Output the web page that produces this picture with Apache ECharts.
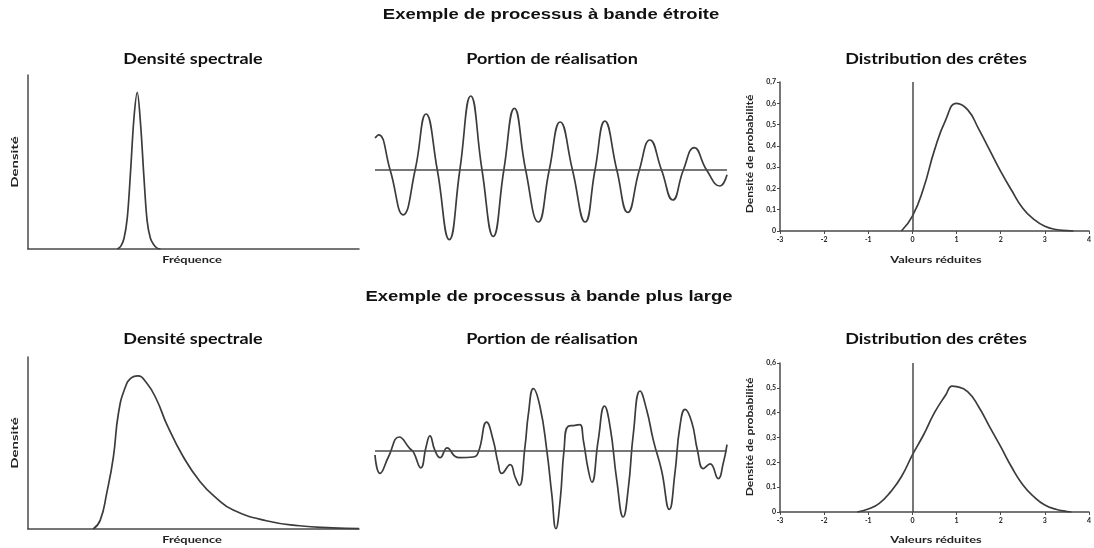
<!DOCTYPE html>
<html>
<head>
<meta charset="utf-8">
<script src="https://cdn.jsdelivr.net/npm/echarts@6/dist/echarts.min.js"></script>
<style>
  html, body { margin: 0; padding: 0; background: #fff; }
  #chart { width: 1094px; height: 548px; }
</style>
</head>
<body>
<div id="chart"></div>
<script>
// Processus à bande étroite : densité spectrale (fréquence normalisée 0–100, densité 0–100)
const spectreEtroit = [
  [27, 0], [28, 1.5], [29, 6], [30, 18], [31, 45], [32, 75], [33, 90],
  [34, 72], [35, 42], [36, 16], [37, 6], [38, 2.5], [39, 0.5], [40, 0]
];

// Processus à bande plus large : densité spectrale
const spectreLarge = [
  [19.7, 0], [21.8, 5], [23.8, 21], [25.8, 42], [27.3, 67], [29.3, 82], [31.3, 88],
  [33.1, 89], [35.8, 85], [38.9, 75], [41.9, 61], [46.9, 42], [52, 27.5], [57, 17.8],
  [62, 11], [72, 4.8], [82, 1.9], [92, 0.7], [100, 0.2]
];

// Portions de réalisation (temps normalisé 0–100, amplitude)
const realisationEtroite = [
  [0, 0.40], [1, 0.44], [4.3, 0], [8.0, -0.56], [11.4, 0], [14.5, 0.70], [17.7, 0],
  [21.1, -0.87], [24.1, 0], [27.2, 0.925], [30.4, 0], [33.6, -0.83], [36.6, 0],
  [39.6, 0.77], [42.8, 0], [46.4, -0.65], [49.5, 0], [52.6, 0.60], [56.1, 0],
  [59.7, -0.65], [62.5, 0], [65.3, 0.61], [68.7, 0], [71.8, -0.53], [75.1, 0],
  [78.1, 0.375], [81.4, 0], [84.6, -0.375], [87.6, 0], [90.7, 0.28], [94.2, 0],
  [98.0, -0.2], [100, -0.06]
];

const realisationLarge = [
  [0, -0.05], [1.4, -0.28], [3.8, -0.075], [6.9, 0.175], [9.9, 0.03], [10.9, -0.01],
  [13.0, -0.21], [14.5, 0.05], [15.6, 0.19], [17.0, 0.01], [18.5, -0.083], [20.5, 0.04],
  [22.7, -0.066], [24.1, -0.083], [27.9, -0.075], [29.4, -0.01], [31.7, 0.36],
  [33.6, 0.13], [35.0, -0.16], [36.0, -0.28], [38.4, -0.17], [39.8, -0.325],
  [41.0, -0.43], [42.6, 0.05], [43.6, 0.47], [45.0, 0.78], [46.9, 0.55], [48.8, 0.01],
  [50.2, -0.53], [51.4, -0.97], [52.6, -0.62], [53.7, 0.01], [54.9, 0.31], [56.8, 0.32],
  [58.2, 0.33], [59.2, 0.13], [60.6, -0.24], [61.6, -0.39], [63.4, 0.13], [65.2, 0.56],
  [66.8, 0.30], [68.7, -0.37], [70.5, -0.825], [72.0, -0.45], [73.4, 0.22], [75.3, 0.75],
  [77.2, 0.51], [79.1, 0.13], [81.4, -0.24], [83.6, -0.73], [85.2, -0.28], [86.6, 0.30],
  [88.1, 0.52], [90.0, 0.36], [91.6, 0.01], [93.3, -0.22], [95.2, -0.16], [97.5, -0.345],
  [98.9, -0.16], [100, 0.08]
];

// Distribution des crêtes (valeurs réduites, densité de probabilité)
const cretesEtroit = [
  [-0.25, 0], [0, 0.07], [0.25, 0.2], [0.5, 0.38], [0.75, 0.52], [1.0, 0.6],
  [1.25, 0.57], [1.5, 0.48], [1.75, 0.38], [2.0, 0.28], [2.25, 0.19], [2.5, 0.107],
  [2.75, 0.055], [3.0, 0.022], [3.25, 0.007], [3.5, 0.002], [3.65, 0]
];

const cretesLarge = [
  [-1.25, 0], [-1.0, 0.012], [-0.75, 0.035], [-0.5, 0.08], [-0.25, 0.142], [0, 0.23],
  [0.25, 0.31], [0.5, 0.40], [0.75, 0.47], [0.9, 0.507], [1.0, 0.505], [1.25, 0.485],
  [1.5, 0.424], [1.75, 0.343], [2.0, 0.263], [2.25, 0.18], [2.5, 0.11], [2.75, 0.062],
  [3.0, 0.028], [3.25, 0.011], [3.5, 0.002], [3.6, 0]
];

// Graduations des axes de la distribution des crêtes
const ticksValeurs = [-3, -2, -1, 0, 1, 2, 3, 4];
const ticksDensiteEtroit = [0, 0.1, 0.2, 0.3, 0.4, 0.5, 0.6, 0.7];
const ticksDensiteLarge = [0, 0.1, 0.2, 0.3, 0.4, 0.5, 0.6];

const titresPrincipaux = ['Exemple de processus à bande étroite', 'Exemple de processus à bande plus large'];
const sousTitres = ['Densité spectrale', 'Portion de réalisation', 'Distribution des crêtes'];
const nomsAxes = { frequence: 'Fréquence', densite: 'Densité', valeurs: 'Valeurs réduites', proba: 'Densité de probabilité' };

const INK = '#3c3c3c';
const AXIS = '#4a4a4a';
const subFont = 'Lato, "Open Sans", sans-serif';

const fmtDec = v => (v === 0 ? '0' : v.toFixed(1).replace('.', ','));

function spectralAxes(gi) {
  return {
    x: {
      type: 'value', gridIndex: gi, min: 0, max: 100,
      axisLine: { show: true, lineStyle: { color: AXIS, width: 1.5 } },
      axisTick: { show: false }, axisLabel: { show: false }, splitLine: { show: false }
    },
    y: {
      type: 'value', gridIndex: gi, min: 0, max: 100,
      axisLine: { show: true, lineStyle: { color: AXIS, width: 1.5 } },
      axisTick: { show: false }, axisLabel: { show: false }, splitLine: { show: false }
    }
  };
}

function signalAxes(gi) {
  return {
    x: { type: 'value', gridIndex: gi, min: 0, max: 100, show: false },
    y: { type: 'value', gridIndex: gi, min: -1, max: 1, show: false }
  };
}

function crestAxes(gi, ticks) {
  const ymax = ticks[ticks.length - 1];
  return {
    x: {
      type: 'value', gridIndex: gi,
      min: ticksValeurs[0], max: ticksValeurs[ticksValeurs.length - 1], interval: 1,
      axisLine: { show: true, onZero: false, lineStyle: { color: AXIS, width: 1.5 } },
      axisTick: { show: true, length: 3, lineStyle: { color: AXIS } },
      axisLabel: { fontFamily: subFont, fontWeight: 'bold', fontSize: 7, color: '#222', margin: 5 },
      splitLine: { show: false }
    },
    y: {
      type: 'value', gridIndex: gi, min: 0, max: ymax, interval: 0.1,
      axisLine: { show: true, onZero: false, lineStyle: { color: AXIS, width: 1.5 } },
      axisTick: { show: true, length: 3, lineStyle: { color: AXIS } },
      axisLabel: { fontFamily: subFont, fontWeight: 'bold', fontSize: 7, color: '#222', margin: 4, formatter: fmtDec },
      splitLine: { show: false }
    }
  };
}

const grids = [
  { left: 28, top: 75, width: 331, height: 174 },
  { left: 375, top: 90, width: 352, height: 160 },
  { left: 780, top: 82, width: 312, height: 149 },
  { left: 28, top: 357, width: 331, height: 172 },
  { left: 375, top: 371, width: 352, height: 160 },
  { left: 780, top: 363, width: 312, height: 149 }
];

const axesList = [
  spectralAxes(0), signalAxes(1), crestAxes(2, ticksDensiteEtroit),
  spectralAxes(3), signalAxes(4), crestAxes(5, ticksDensiteLarge)
];

function curve(gi, data, smooth) {
  return {
    type: 'line', xAxisIndex: gi, yAxisIndex: gi, data: data,
    showSymbol: false, smooth: smooth, silent: true,
    lineStyle: { color: INK, width: 1.7 }
  };
}

function withMark(series, mark) {
  series.markLine = {
    symbol: 'none', silent: true, animation: false,
    label: { show: false },
    lineStyle: { color: AXIS, width: 1.5, type: 'solid' },
    data: [mark]
  };
  return series;
}

const series = [
  curve(0, spectreEtroit, 0.35),
  withMark(curve(1, realisationEtroite, 0.5), { yAxis: 0 }),
  withMark(curve(2, cretesEtroit, 0.5), { xAxis: 0 }),
  curve(3, spectreLarge, 0.5),
  withMark(curve(4, realisationLarge, 0.5), { yAxis: 0 }),
  withMark(curve(5, cretesLarge, 0.5), { xAxis: 0 })
];

// Textes : les polices sont légèrement élargies (scaleX) pour retrouver la largeur d'origine
function label(text, x, y, font, opts) {
  const o = opts || {};
  return {
    type: 'text', x: x, y: y,
    rotation: o.rotation || 0,
    scaleX: o.scaleX || 1,
    silent: true,
    style: { text: text, align: 'center', verticalAlign: 'middle', font: font, fill: o.fill || '#111' }
  };
}

const graphics = [];
const fontMain = 'bold 15px "Liberation Sans", Arial, sans-serif';
const fontSub = 'bold 15px ' + subFont;
const fontAxis = 'bold 10px ' + subFont;
const up = Math.PI / 2;

graphics.push(label(titresPrincipaux[0], 551, 15, fontMain, { scaleX: 1.23 }));
graphics.push(label(titresPrincipaux[1], 549, 297, fontMain, { scaleX: 1.23 }));

[59, 339].forEach(y => {
  [193, 552, 936].forEach((x, j) => {
    graphics.push(label(sousTitres[j], x, y, fontSub, { scaleX: 1.2 }));
  });
});

// Noms d'axes, rangée du haut puis rangée du bas
[[260, 162, 154], [540, 443, 437]].forEach(([yx, yDens, yProba]) => {
  graphics.push(label(nomsAxes.frequence, 192, yx, fontAxis, { scaleX: 1.28, fill: '#222' }));
  graphics.push(label(nomsAxes.valeurs, 936, yx, fontAxis, { scaleX: 1.28, fill: '#222' }));
  graphics.push(label(nomsAxes.densite, 15, yDens, 'bold 8.5px ' + subFont, { rotation: up, scaleX: 1.75, fill: '#222' }));
  graphics.push(label(nomsAxes.proba, 750, yProba, 'bold 8.5px ' + subFont, { rotation: up, scaleX: 1.42, fill: '#222' }));
});

const chart = echarts.init(document.getElementById('chart'), null, { renderer: 'canvas' });
chart.setOption({
  animation: false,
  backgroundColor: '#ffffff',
  grid: grids,
  xAxis: axesList.map(a => a.x),
  yAxis: axesList.map(a => a.y),
  series: series,
  graphic: graphics
});
</script>
</body>
</html>
